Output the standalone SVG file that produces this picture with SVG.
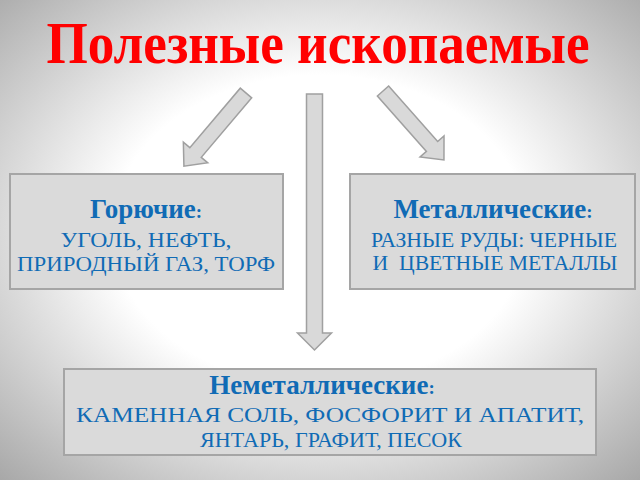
<svg xmlns="http://www.w3.org/2000/svg" width="640" height="480" viewBox="0 0 640 480">
<defs>
<radialGradient id="bg" cx="50%" cy="48%" r="72%">
<stop offset="0" stop-color="#ffffff"/>
<stop offset="0.45" stop-color="#ffffff"/>
<stop offset="1" stop-color="#a8a8a8"/>
</radialGradient>
</defs>
<style>
.box{fill:#dadada;stroke:#a5a5a5;stroke-width:2}
.arrow{fill:#d9d9d9;stroke:#a0a0a0;stroke-width:1.5;stroke-linejoin:miter}
.hd{font-family:"Liberation Serif","Times New Roman",serif;font-weight:bold;font-size:27px;fill:#106bb5;text-anchor:middle}
.tx{font-family:"Liberation Serif","Times New Roman",serif;font-size:21.5px;fill:#106bb5;text-anchor:middle}
.col{font-size:19px}
.title{font-family:"Liberation Serif","Times New Roman",serif;font-weight:bold;font-size:60px;fill:#ff0000;text-anchor:middle}
</style>
<rect width="640" height="480" fill="url(#bg)"/>
<text class="title" transform="translate(318,63) scale(0.885,1)" x="0" y="0">Полезные ископаемые</text>
<g id="connectors">
<polygon class="arrow" transform="translate(314.5,94) rotate(90)" points="0,-8 239,-8 239,-17 256,0 239,17 239,8 0,8"/>
<polygon class="arrow" transform="translate(246,93) rotate(130.3)" points="0,-7.5 78,-7.5 78,-16 96,0 78,16 78,7.5 0,7.5"/>
<polygon class="arrow" transform="translate(383,91) rotate(48.5)" points="0,-7.5 74,-7.5 74,-16 92,0 74,16 74,7.5 0,7.5"/>
</g>
<g id="node-goryuchie">
<rect class="box" x="10" y="174" width="273" height="115"/>
<text class="hd" x="146" y="218">Горючие<tspan class="col">:</tspan></text>
<text class="tx" x="146" y="247" textLength="171" lengthAdjust="spacingAndGlyphs">УГОЛЬ, НЕФТЬ,</text>
<text class="tx" x="146" y="271" textLength="258" lengthAdjust="spacingAndGlyphs">ПРИРОДНЫЙ ГАЗ, ТОРФ</text>
</g>
<g id="node-metall">
<rect class="box" x="350" y="174" width="285" height="115"/>
<text class="hd" x="493" y="218">Металлические<tspan class="col">:</tspan></text>
<text class="tx" x="494" y="247" textLength="246" lengthAdjust="spacingAndGlyphs">РАЗНЫЕ РУДЫ: ЧЕРНЫЕ</text>
<text class="tx" x="495" y="270" textLength="245" lengthAdjust="spacingAndGlyphs" xml:space="preserve">И  ЦВЕТНЫЕ МЕТАЛЛЫ</text>
</g>
<g id="node-nemetall">
<rect class="box" x="64" y="369" width="532" height="86"/>
<text class="hd" x="322" y="394">Неметаллические<tspan class="col">:</tspan></text>
<text class="tx" x="330" y="422" textLength="508" lengthAdjust="spacingAndGlyphs">КАМЕННАЯ СОЛЬ, ФОСФОРИТ И АПАТИТ,</text>
<text class="tx" x="331" y="447" textLength="262" lengthAdjust="spacingAndGlyphs">ЯНТАРЬ, ГРАФИТ, ПЕСОК</text>
</g>
</svg>
